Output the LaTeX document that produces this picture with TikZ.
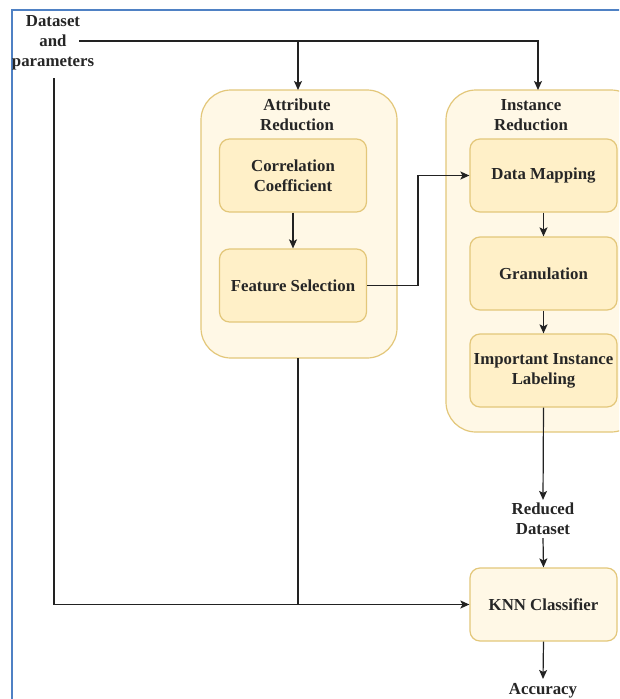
\documentclass[tikz,border=0pt]{standalone}
\usepackage{fontspec}
\setmainfont{Liberation Serif}
\usetikzlibrary{arrows.meta}
\definecolor{contfill}{HTML}{FFF8E6}
\definecolor{boxfill}{HTML}{FFF0C8}
\definecolor{ystroke}{HTML}{E3C77A}
\definecolor{frameblue}{HTML}{4F81C4}
\definecolor{linec}{HTML}{222222}
\tikzset{
  txt/.style={font=\fontsize{16.8}{20}\selectfont\bfseries, text=black!85, align=center, inner sep=0pt},
  container/.style={draw=ystroke, fill=contfill, line width=1.2pt, rounded corners=30pt},
  stepbox/.style={draw=ystroke, fill=boxfill, line width=1.2pt, rounded corners=10pt, minimum width=147pt, minimum height=73pt, txt},
  knnbox/.style={draw=ystroke, fill=contfill, line width=1.2pt, rounded corners=10pt, minimum width=147pt, minimum height=73pt, txt},
  conn/.style={draw=linec, line width=1.2pt},
  arr/.style={conn, -{Stealth[length=9pt,width=8pt,inset=2pt]}}
}
\begin{document}
\begin{tikzpicture}[x=1pt,y=-1pt]
\useasboundingbox (0,0) rectangle (619,699);
\clip (0,0) rectangle (619,699);
\fill[white] (0,0) rectangle (619,699);
\draw[frameblue, line width=1.8pt] (12,10) rectangle (660,720);

% containers
\draw[container] (201,90) rectangle (397,358);
\coordinate (attrN) at (298,90);
\coordinate (attrS) at (298,358);
\node[txt] (attrT) at (297,115) {Attribute\\Reduction};

\draw[container] (446,90) rectangle (641,432);
\coordinate (instN) at (538,90);
\node[txt] (instT) at (531,115) {Instance\\Reduction};

% inner boxes
\node[stepbox] (cc) at (293,175.5) {Correlation\\Coefficient};
\node[stepbox] (fs) at (293,285.5) {Feature Selection};
\node[stepbox] (dm) at (543.5,175.5) {Data Mapping};
\node[stepbox] (gr) at (543.5,273.5) {Granulation};
\node[stepbox] (il) at (543.5,370.5) {Important Instance\\Labeling};
\node[knnbox] (knn) at (543.5,604.5) {KNN Classifier};

% text nodes
\node[txt] (ds) at (53,43) {Dataset\\and\\parameters};
\coordinate (dsE) at (79,41);
\coordinate (dsS) at (54,78);
\node[txt, inner sep=3pt] (rd) at (543,519) {Reduced\\Dataset};
\node[txt, inner sep=4pt] (acc) at (543,690.5) {Accuracy};

\coordinate (j1) at (298,41);
\coordinate (j2) at (298,604.5);
\coordinate (bend) at (418,285.5);

% connectors
\draw[arr] (dsE) -| (instN);
\draw[arr] (j1) -- (attrN);
\draw[arr] (dsS) |- (knn.west);
\draw[conn] (attrS) -- (j2);
\draw[arr] (cc) -- (fs);
\draw[arr] (fs.east) -- (bend) |- (dm.west);
\draw[arr] (dm) -- (gr);
\draw[arr] (gr) -- (il);
\draw[arr] (il.south) -- (rd.north);
\draw[arr] (rd.south) -- (knn.north);
\draw[arr] (knn.south) -- (acc.north);
\end{tikzpicture}
\end{document}
